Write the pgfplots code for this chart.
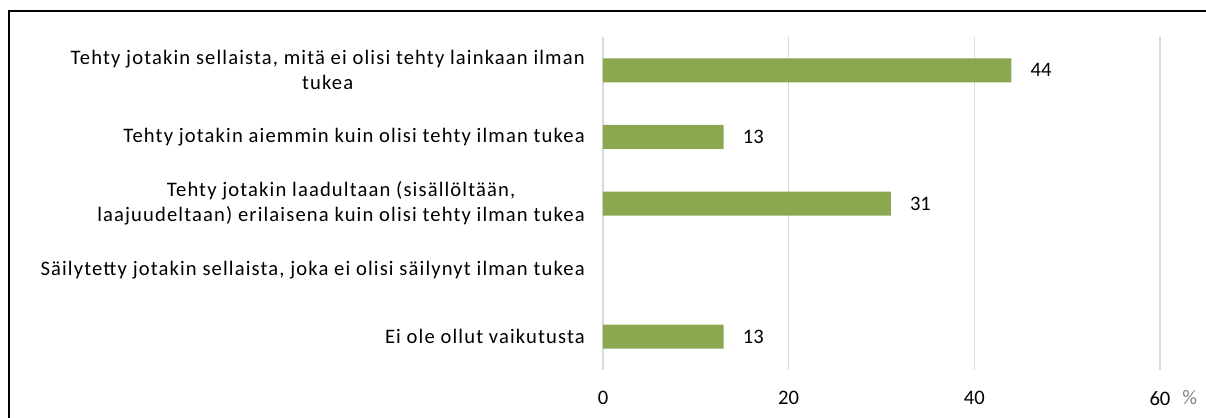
\documentclass[border=0pt]{standalone}
\usepackage{fontspec}
\setmainfont{Carlito}
\newfontfamily\labelfont[LetterSpace=5.5]{Carlito}
\usepackage{pgfplots}
\pgfplotsset{compat=1.18}
\definecolor{bargreen}{HTML}{8AA850}
\definecolor{gridgray}{HTML}{D9D9D9}
\begin{document}
\fontsize{10.3pt}{12.6pt}\selectfont
\begin{tikzpicture}
\useasboundingbox (0,0) rectangle (603pt,209pt);
\draw[line width=1pt, black] (4.5pt,-10pt) -- (4.5pt,203.5pt) -- (615pt,203.5pt);
\begin{axis}[
  at={(301.5pt,24pt)}, anchor=south west,
  scale only axis, width=278.5pt, height=166.5pt,
  xmin=0, xmax=60, ymin=-0.5, ymax=4.5, y dir=reverse,
  xtick={0,20,40,60}, ytick={0,1,2,3,4},
  yticklabels={{Tehty jotakin sellaista, mitä ei olisi tehty lainkaan ilman\\tukea},
               {Tehty jotakin aiemmin kuin olisi tehty ilman tukea},
               {Tehty jotakin laadultaan (sisällöltään,\\laajuudeltaan) erilaisena kuin olisi tehty ilman tukea},
               {Säilytetty jotakin sellaista, joka ei olisi säilynyt ilman tukea},
               {Ei ole ollut vaikutusta}},
  yticklabel style={align=center, xshift=-1.2pt, font=\labelfont\fontsize{10.3pt}{12.6pt}\selectfont},
  xticklabel style={yshift=-7pt, font=\fontsize{10.3pt}{12.6pt}\selectfont},
  /pgf/number format/assume math mode=true,
  axis line style={draw=none}, major tick style={draw=none},
  xmajorgrids, grid style={gridgray, line width=0.8pt},
  xbar, bar width=12pt,
  nodes near coords,
  nodes near coords style={anchor=west, xshift=6pt, font=\fontsize{10.3pt}{12.6pt}\selectfont, text=black},
  clip=false,
]
\addplot[fill=bargreen, draw=none] coordinates {(44,0) (13,1) (31,2) (13,4)};
\node[anchor=west, inner sep=0pt, text=gray] at ([xshift=11pt, yshift=-14pt]axis cs:60,4.5) {\%};
\end{axis}
\end{tikzpicture}
\end{document}
